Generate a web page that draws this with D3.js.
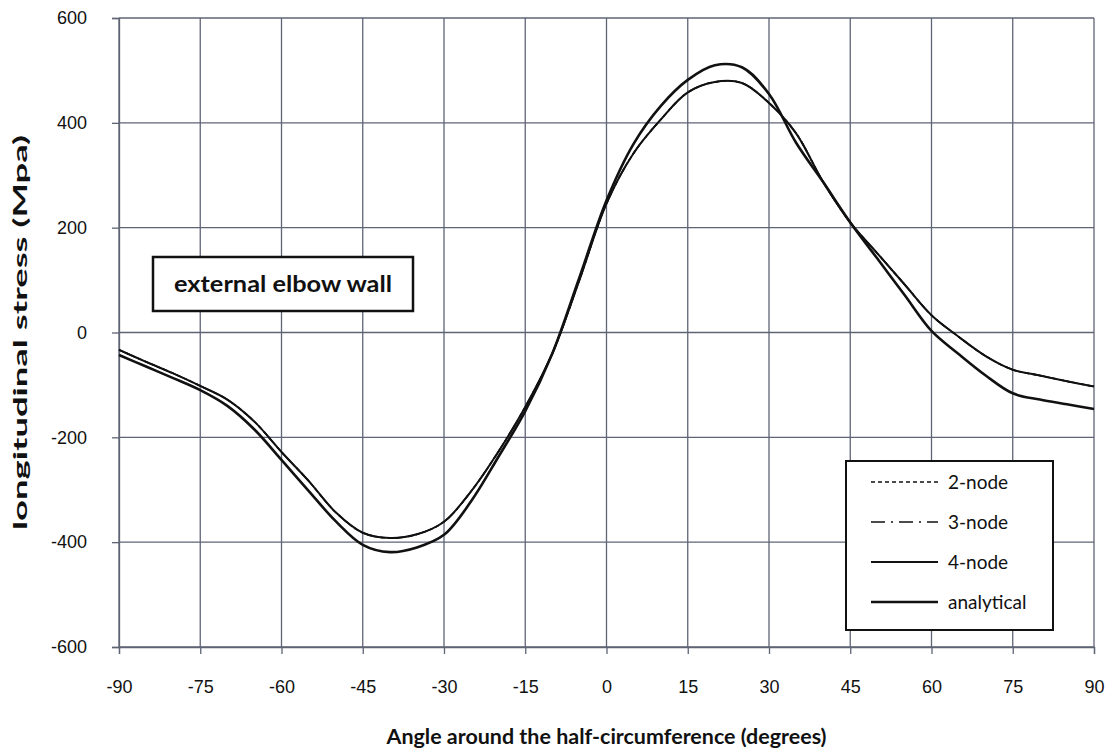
<!DOCTYPE html>
<html>
<head>
<meta charset="utf-8">
<script src="https://cdn.jsdelivr.net/npm/d3@7"></script>
<style>
  body { margin: 0; background: #fff; }
  svg { display: block; font-family: Lato, "Open Sans", sans-serif; }
</style>
</head>
<body>
<svg width="1114" height="752"></svg>
<script>
const width = 1114;
const height = 752;
const margin = {top: 18, right: 20, bottom: 105, left: 119};

// angle around the half-circumference (degrees)
const angles = [-90, -85, -80, -75, -70, -65, -60, -55, -50, -45, -40, -35, -30, -25, -20, -15, -10, -5,
  0, 5, 10, 15, 20, 25, 30, 35, 40, 45, 50, 55, 60, 65, 70, 75, 80, 85, 90];

// analytical solution (MPa)
const analytical = [-43, -65, -87, -110, -140, -185, -243, -302, -360, -405, -419, -410, -386, -322, -238, -150, -40, 105,
  252, 360, 432, 482, 510, 506, 455, 362, 287, 210, 141, 72, 3, -41, -82, -116, -128, -137, -146];

// finite element results (2-, 3- and 4-node elements overlap)
const feStress = [-33, -56, -78, -102, -128, -170, -228, -283, -343, -382, -392, -385, -361, -303, -228, -142, -40, 100,
  246, 342, 406, 458, 478, 476, 438, 380, 287, 210, 151, 92, 33, -8, -45, -71, -82, -93, -103];

const xTicks = [-90, -75, -60, -45, -30, -15, 0, 15, 30, 45, 60, 75, 90];
const yTicks = [-600, -400, -200, 0, 200, 400, 600];

const series = [
  {name: '2-node', values: feStress, width: 1.6, dash: '4,3'},
  {name: '3-node', values: feStress, width: 1.6, dash: '14,6,2,6'},
  {name: '4-node', values: feStress, width: 2, dash: null},
  {name: 'analytical', values: analytical, width: 2.6, dash: null}
];

const x = d3.scaleLinear().domain([-90, 90]).range([margin.left, width - margin.right]);
const y = d3.scaleLinear().domain([-600, 600]).range([height - margin.bottom, margin.top]);

const svg = d3.select('svg');
const gridColor = '#5f6475';

// grid
svg.append('g')
    .attr('stroke', gridColor)
    .attr('stroke-width', 1.3)
    .call(g => g.selectAll('line.v').data(xTicks).join('line')
        .attr('x1', d => x(d)).attr('x2', d => x(d))
        .attr('y1', y(600)).attr('y2', y(-600)))
    .call(g => g.selectAll('line.h').data(yTicks).join('line')
        .attr('x1', x(-90)).attr('x2', x(90))
        .attr('y1', d => y(d)).attr('y2', d => y(d)));

// axes
const xAxis = g => g.attr('transform', `translate(0,${y(-600)})`)
    .call(d3.axisBottom(x).tickValues(xTicks).tickSize(7).tickPadding(26).tickFormat(d => String(d)))
    .call(g => g.selectAll('line, path').attr('stroke', gridColor).attr('stroke-width', 1.3))
    .call(g => g.selectAll('text').attr('font-size', 18).attr('fill', '#111'));

const yAxis = g => g.attr('transform', `translate(${x(-90)},0)`)
    .call(d3.axisLeft(y).tickValues(yTicks).tickSize(7).tickPadding(25).tickFormat(d => String(d)))
    .call(g => g.selectAll('line, path').attr('stroke', gridColor).attr('stroke-width', 1.3))
    .call(g => g.selectAll('text').attr('font-size', 18).attr('fill', '#111'));

svg.append('g').call(xAxis);
svg.append('g').call(yAxis);

// curves
const line = d3.line()
    .x((d, i) => x(angles[i]))
    .y(d => y(d))
    .curve(d3.curveCatmullRom.alpha(0.5));

svg.append('g')
    .attr('fill', 'none')
    .attr('stroke', '#111')
    .selectAll('path')
    .data(series)
    .join('path')
    .attr('stroke-width', d => d.width)
    .attr('stroke-dasharray', d => d.dash)
    .attr('d', d => line(d.values));

// axis titles
svg.append('text')
    .attr('x', x(0))
    .attr('y', 744)
    .attr('text-anchor', 'middle')
    .attr('font-size', 20)
    .attr('font-weight', 'bold')
    .attr('fill', '#111')
    .attr('textLength', 440)
    .attr('lengthAdjust', 'spacingAndGlyphs')
    .text('Angle around the half-circumference (degrees)');

svg.append('text')
    .attr('transform', `translate(27,${y(0)}) rotate(-90)`)
    .attr('text-anchor', 'middle')
    .attr('font-size', 19)
    .attr('font-weight', 'bold')
    .attr('fill', '#111')
    .attr('textLength', 395)
    .attr('lengthAdjust', 'spacingAndGlyphs')
    .text('longitudinal  stress (Mpa)');

// annotation box
const note = svg.append('g').attr('transform', 'translate(153,257)');
note.append('rect')
    .attr('width', 260).attr('height', 54)
    .attr('fill', '#fff').attr('stroke', '#111').attr('stroke-width', 2.5);
note.append('text')
    .attr('x', 130).attr('y', 35)
    .attr('text-anchor', 'middle')
    .attr('font-size', 22)
    .attr('font-weight', 'bold')
    .attr('fill', '#111')
    .attr('textLength', 218)
    .attr('lengthAdjust', 'spacingAndGlyphs')
    .text('external elbow wall');

// legend
const legend = svg.append('g').attr('transform', 'translate(846,461)');
legend.append('rect')
    .attr('width', 207).attr('height', 169)
    .attr('fill', '#fff').attr('stroke', '#111').attr('stroke-width', 2);
const item = legend.selectAll('g')
    .data(series)
    .join('g')
    .attr('transform', (d, i) => `translate(0,${21 + i * 40})`);
item.append('line')
    .attr('x1', 25).attr('x2', 92)
    .attr('stroke', '#111')
    .attr('stroke-width', d => d.width)
    .attr('stroke-dasharray', d => d.dash);
item.append('text')
    .attr('x', 102).attr('dy', '0.35em')
    .attr('font-size', 19)
    .attr('fill', '#111')
    .text(d => d.name);
</script>
</body>
</html>
